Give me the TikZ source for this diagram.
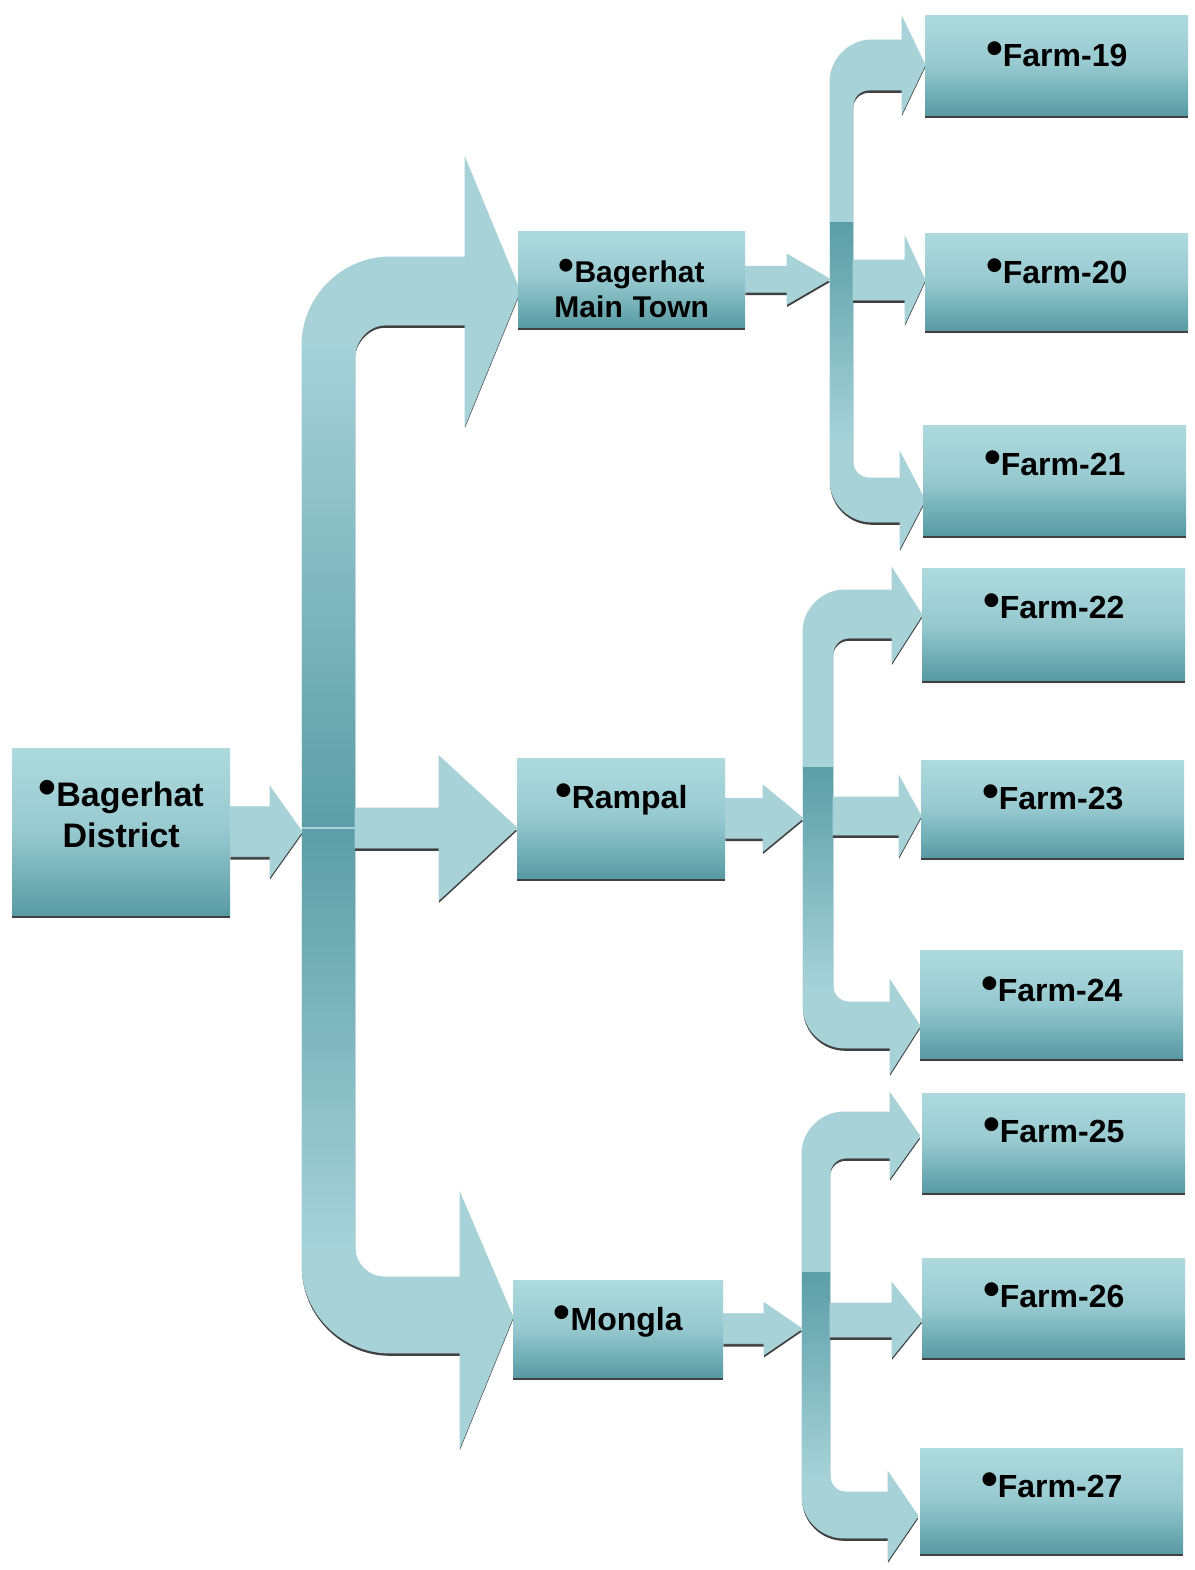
\documentclass[tikz,border=0pt]{standalone}
\usepackage{fontspec}
\setmainfont{Liberation Sans}
\usetikzlibrary{calc,shadows,backgrounds}

\definecolor{arrowc}{RGB}{166,210,216}
\definecolor{bardark}{RGB}{92,158,167}
\definecolor{boxtop}{RGB}{174,218,222}
\definecolor{boxmid}{RGB}{150,201,207}
\definecolor{boxbot}{RGB}{88,154,163}

\tikzset{
  sunk/.style={drop shadow={shadow xshift=0pt, shadow yshift=-2.8pt, fill=black!75, opacity=1}},
  box/.style={sunk, top color=boxtop, bottom color=boxbot, middle color=boxmid,
    inner sep=0pt, align=center, anchor=north west,
    font=\bfseries\fontsize{32}{38}\selectfont},
  arrowbody/.style={sunk, fill=arrowc, draw=arrowc, line width=0.9pt},
  bardown/.style={top color=bardark, bottom color=arrowc},
  barup/.style={top color=arrowc, bottom color=bardark},
}

\newcommand\bul{\raisebox{2pt}{\scalebox{1.5}{•}}}
% block arrow: from, to, shaft half, head half, head length
\newcommand\fatarrow[5]{%
  \path[arrowbody] let \p1=#1, \p2=#2 in
    (\x1,\y1+#3pt) -- (\x2-#5pt,\y1+#3pt) -- (\x2-#5pt,\y1+#4pt) -- (\x2,\y1)
    -- (\x2-#5pt,\y1-#4pt) -- (\x2-#5pt,\y1-#3pt) -- (\x1,\y1-#3pt) -- cycle;}

\begin{document}
\begin{tikzpicture}[x=1pt,y=-1pt]
	\useasboundingbox (0,0) rectangle (1194,1570);
	% boxes
	\node[box, text width=218pt, text height=58pt, text depth=109pt,
		font=\bfseries\fontsize{34}{41}\selectfont] (dist) at (12,748) {\bul Bagerhat\\District};
	\node[box, text width=227pt, text height=51pt, text depth=45pt,
		font=\bfseries\fontsize{30}{35}\selectfont] (town) at (518,231) {\bul Bagerhat\\Main Town};
	\node[box, text width=208pt, text height=50pt, text depth=70pt] (rampal) at (517,758) {\bul Rampal};
	\node[box, text width=210pt, text height=50pt, text depth=47pt] (mongla) at (513,1280) {\bul Mongla};
	\foreach \n/\x/\y/\a/\b in {19/925/15/51/49, 20/925/233/50/47, 21/923/425/50/60,
		22/922/568/50/62, 23/921/760/49/48, 24/920/950/51/57,
		25/922/1093/49/50, 26/922/1258/49/50, 27/920/1448/49/56}
		\node[box, text width=263pt, text height=\a pt, text depth=\b pt] (f\n) at (\x,\y) {\bul Farm-\n};
	%
	\coordinate (hub) at (302,833);
	\coordinate (hubr) at (355,828);
	\coordinate (tbar) at (830,279);
	\coordinate (tbarr) at (853,280);
	\coordinate (rbar) at (803,820);
	\coordinate (rbarr) at (833,816);
	\coordinate (mbar) at (802,1326);
	\coordinate (mbarr) at (830,1320);
	%
	\begin{scope}[on background layer]
		\fill [white] (0,0) rectangle (1194,1570);
		% district bracket
		\path[arrowbody] (302,345) .. controls (302,297) and (342,257) .. (390,257)
			-- (465,257) -- (465,158) -- (520,291) -- (465,425) -- (465,325) -- (385,325)
			.. controls (368,325) and (355,342) .. (355,355) -- (355,1247)
			.. controls (355,1264) and (368,1277) .. (385,1277)
			-- (460,1277) -- (460,1193) -- (513,1317) -- (460,1447) -- (460,1353) -- (390,1353)
			.. controls (342,1353) and (302,1313) .. (302,1265) -- cycle;
		\fill [barup] (302,340) rectangle (355,826);
		\fill [bardown] (302,829) rectangle (355,1250);
		\fatarrow{(dist.east)}{(hub)}{25}{45}{32}
		\fatarrow{(hubr)}{(rampal.west)}{20}{72}{78}
		% main town bracket
		\path[arrowbody] (830,82) .. controls (830,59) and (849,40) .. (872,40)
			-- (902,40) -- (902,17) -- (925,65) -- (902,113) -- (902,90) -- (869,90)
			.. controls (860,90) and (853,97) .. (853,106) -- (853,462)
			.. controls (853,471) and (860,478) .. (869,478)
			-- (900,478) -- (900,452) -- (925,500) -- (900,548) -- (900,522) -- (872,522)
			.. controls (849,522) and (830,503) .. (830,480) -- cycle;
		\fill [bardown] (830,223) rectangle (853,440);
		\fatarrow{(town.east)}{(tbar)}{13}{25}{43}
		\fatarrow{(tbarr)}{(f20.west)}{20}{43}{20}
		% rampal bracket
		\path[arrowbody] (803,632) .. controls (803,609) and (822,590) .. (845,590)
			-- (892,590) -- (892,568) -- (922,615) -- (892,662) -- (892,638) -- (849,638)
			.. controls (840,638) and (833,645) .. (833,654) -- (833,986)
			.. controls (833,995) and (840,1002) .. (849,1002)
			-- (890,1002) -- (890,980) -- (920,1026) -- (890,1073) -- (890,1048) -- (845,1048)
			.. controls (822,1048) and (803,1029) .. (803,1006) -- cycle;
		\fill [bardown] (803,767) rectangle (833,990);
		\fatarrow{(rampal.east)}{(rbar)}{20}{33}{40}
		\fatarrow{(rbarr)}{(f23.west)}{19}{40}{22}
		% mongla bracket
		\path[arrowbody] (802,1154) .. controls (802,1131) and (821,1112) .. (844,1112)
			-- (890,1112) -- (890,1093) -- (920,1136) -- (890,1178) -- (890,1158) -- (846,1158)
			.. controls (837,1158) and (830,1165) .. (830,1174) -- (830,1476)
			.. controls (830,1485) and (837,1492) .. (846,1492)
			-- (888,1492) -- (888,1472) -- (918,1516) -- (888,1560) -- (888,1538) -- (844,1538)
			.. controls (821,1538) and (802,1519) .. (802,1496) -- cycle;
		\fill [bardown] (802,1272) rectangle (830,1478);
		\fatarrow{(mongla.east)}{(mbar)}{15}{26}{38}
		\fatarrow{(mbarr)}{(f26.west)}{17}{37}{30}
	\end{scope}
\end{tikzpicture}
\end{document}
